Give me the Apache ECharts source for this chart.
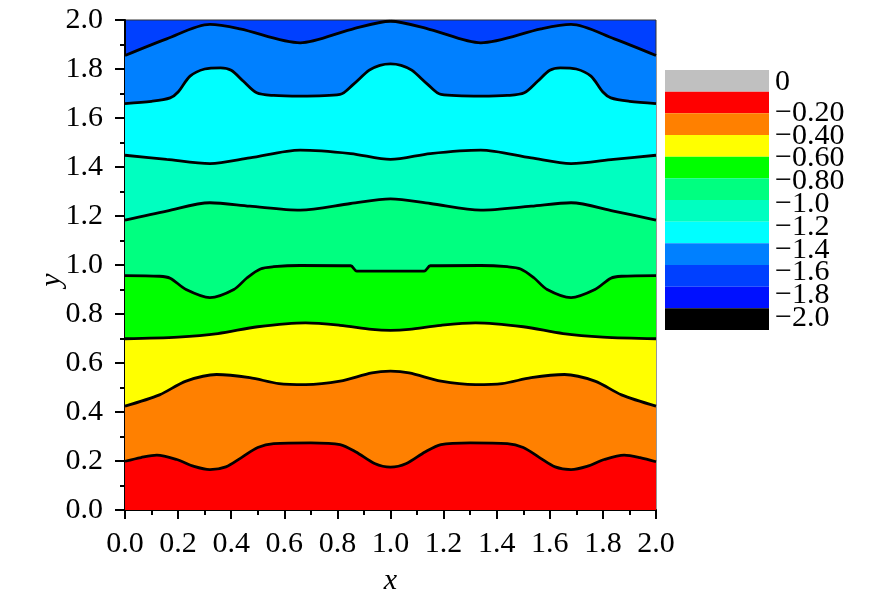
<!DOCTYPE html>
<html><head><meta charset="utf-8">
<script src="https://cdn.jsdelivr.net/npm/echarts@6/dist/echarts.min.js"></script>
<style>html,body{margin:0;padding:0;background:#fff}#c{width:870px;height:609px}</style>
</head><body><div id="c"></div>
<script>
// Contour boundary lines, bottom to top: [x, y]
const b1 = [[0,0.199],[0.06,0.214],[0.12,0.224],[0.195,0.206],[0.26,0.178],[0.32,0.165],[0.38,0.176],[0.44,0.215],[0.5,0.255],[0.56,0.271],[0.7,0.274],[0.81,0.267],[0.87,0.237],[0.94,0.19],[1.0,0.175],[1.06,0.19],[1.13,0.237],[1.19,0.267],[1.3,0.274],[1.44,0.271],[1.5,0.255],[1.56,0.215],[1.62,0.176],[1.68,0.165],[1.74,0.178],[1.805,0.206],[1.88,0.224],[1.94,0.214],[2.0,0.197]];
const b2 = [[0,0.424],[0.13,0.47],[0.23,0.526],[0.345,0.553],[0.47,0.54],[0.58,0.516],[0.68,0.512],[0.81,0.526],[0.93,0.56],[1.0,0.567],[1.07,0.56],[1.19,0.526],[1.32,0.512],[1.42,0.516],[1.53,0.54],[1.655,0.553],[1.77,0.526],[1.87,0.47],[2.0,0.424]];
const b3 = [[0,0.699],[0.2,0.706],[0.35,0.72],[0.5,0.748],[0.68,0.764],[0.81,0.754],[0.93,0.737],[1.0,0.733],[1.07,0.737],[1.19,0.754],[1.32,0.764],[1.5,0.748],[1.65,0.72],[1.8,0.706],[2.0,0.699]];
const b4 = [[0,0.957],[0.13,0.954],[0.17,0.946],[0.23,0.9],[0.32,0.867],[0.41,0.9],[0.46,0.948],[0.51,0.984],[0.56,0.993],[0.66,0.998],[0.85,0.997],[0.873,0.975],[1.0,0.975],[1.127,0.975],[1.15,0.997],[1.34,0.998],[1.44,0.993],[1.49,0.984],[1.54,0.948],[1.59,0.9],[1.68,0.867],[1.77,0.9],[1.83,0.946],[1.87,0.954],[2.0,0.957]];
const b5 = [[0,1.183],[0.157,1.22],[0.32,1.254],[0.47,1.24],[0.66,1.224],[0.85,1.251],[1.0,1.27],[1.15,1.251],[1.34,1.224],[1.53,1.24],[1.68,1.254],[1.84,1.22],[2.0,1.183]];
const b6 = [[0,1.448],[0.157,1.431],[0.32,1.414],[0.47,1.437],[0.66,1.469],[0.85,1.455],[1.0,1.431],[1.15,1.455],[1.34,1.469],[1.53,1.437],[1.68,1.414],[1.84,1.431],[2.0,1.448]];
const b7 = [[0,1.659],[0.1,1.668],[0.17,1.682],[0.2,1.706],[0.245,1.771],[0.3,1.8],[0.36,1.805],[0.4,1.795],[0.446,1.75],[0.496,1.703],[0.56,1.692],[0.66,1.689],[0.81,1.696],[0.86,1.737],[0.92,1.795],[0.96,1.815],[1.0,1.821],[1.04,1.815],[1.08,1.795],[1.14,1.737],[1.19,1.696],[1.34,1.689],[1.44,1.692],[1.504,1.703],[1.554,1.75],[1.6,1.795],[1.64,1.805],[1.7,1.8],[1.755,1.771],[1.8,1.706],[1.83,1.682],[1.9,1.668],[2.0,1.659]];
const b8 = [[0,1.855],[0.157,1.923],[0.32,1.982],[0.433,1.964],[0.66,1.907],[0.85,1.961],[1.0,1.995],[1.15,1.961],[1.34,1.907],[1.567,1.964],[1.68,1.982],[1.843,1.923],[2.0,1.855]];
const boundaries = [b1, b2, b3, b4, b5, b6, b7, b8];

// Colour bar
const cbSegments = [[0.2,0],[0,-0.2],[-0.2,-0.4],[-0.4,-0.6],[-0.6,-0.8],[-0.8,-1.0],[-1.0,-1.2],[-1.2,-1.4],[-1.4,-1.6],[-1.6,-1.8],[-1.8,-2.0],[-2.0,-2.2]];
const cbLabelValues = [0,-0.2,-0.4,-0.6,-0.8,-1.0,-1.2,-1.4,-1.6,-1.8,-2.0];
const cbLabels = ['0','\u22120.20','\u22120.40','\u22120.60','\u22120.80','\u22121.0','\u22121.2','\u22121.4','\u22121.6','\u22121.8','\u22122.0'];

// styles
const cbColors = ['#c0c0c0','#ff0000','#ff8000','#ffff00','#00ff00','#00ff80','#00ffc0','#00ffff','#0080ff','#0040ff','#0010ff','#000000'];
const bandBelow = ['#ff0000','#ff8000','#ffff00','#00ff00','#00ff80','#00ffc0','#00ffff','#0080ff'];
const topBand = '#0040ff';
const FONT = '"Liberation Serif", "Times New Roman", serif';

const chart = echarts.init(document.getElementById('c'), null, {renderer:'canvas'});
const lineSeries = [];
for (let i = boundaries.length - 1; i >= 0; i--) {
  lineSeries.push({
    type:'line', xAxisIndex:0, yAxisIndex:0, data: boundaries[i],
    showSymbol:false, smooth:0.3,
    lineStyle:{color:'#000', width:2.8},
    areaStyle:{color:bandBelow[i], opacity:1, origin:'start'},
    silent:true
  });
}
const axisText = {fontFamily:FONT, fontSize:30, color:'#000'};
chart.setOption({
  animation:false,
  backgroundColor:'#fff',
  grid:[
    {left:125, top:20, width:531, height:490, show:true, backgroundColor:topBand, borderColor:'#333', borderWidth:1},
    {left:665, top:70, width:104, height:260}
  ],
  xAxis:[
    {gridIndex:0, type:'value', min:0, max:2, interval:0.2,
     name:'x', nameLocation:'middle', nameGap:56, nameMoveOverlap:false,
     nameTextStyle:{fontFamily:FONT, fontSize:30, fontStyle:'italic', color:'#000'},
     axisLine:{show:true, onZero:false, lineStyle:{color:'#000', width:2}},
     axisTick:{show:true, inside:false, length:9, lineStyle:{color:'#000', width:2}},
     minorTick:{show:true, splitNumber:2, length:5, lineStyle:{color:'#000', width:2}},
     splitLine:{show:false},
     axisLabel:Object.assign({margin:19, formatter:v=>v.toFixed(1)}, axisText)},
    {gridIndex:1, type:'value', min:0, max:1, show:false}
  ],
  yAxis:[
    {gridIndex:0, type:'value', min:0, max:2, interval:0.2,
     name:'y', nameLocation:'middle', nameGap:58, nameRotate:90, nameMoveOverlap:false,
     nameTextStyle:{fontFamily:FONT, fontSize:30, fontStyle:'italic', color:'#000', padding:[0,30,0,0]},
     axisLine:{show:true, onZero:false, lineStyle:{color:'#000', width:2}},
     axisTick:{show:true, inside:false, length:10, lineStyle:{color:'#000', width:2}},
     minorTick:{show:true, splitNumber:2, length:5, lineStyle:{color:'#000', width:2}},
     splitLine:{show:false},
     axisLabel:Object.assign({margin:22, formatter:v=>v.toFixed(1)}, axisText)},
    {gridIndex:1, type:'value', min:-2.2, max:0.2, show:false},
    {gridIndex:1, type:'value', min:-2.105, max:0.1775, show:false}
  ],
  series: lineSeries.concat([{
    type:'custom', xAxisIndex:1, yAxisIndex:1, silent:true,
    data: cbSegments.map(s=>[0, s[0], s[1]]),
    encode:{x:0, y:[1,2]},
    renderItem:function(params, api){
      const p1 = api.coord([0, api.value(1)]);
      const p2 = api.coord([1, api.value(2)]);
      return {type:'rect', shape:{x:p1[0], y:p1[1], width:p2[0]-p1[0], height:p2[1]-p1[1]},
              style:{fill:cbColors[params.dataIndex]}};
    }
  }, {
    type:'custom', xAxisIndex:1, yAxisIndex:2, silent:true,
    data: cbLabelValues.map(v=>[1, v]),
    encode:{x:0, y:1},
    renderItem:function(params, api){
      const p = api.coord([1, api.value(1)]);
      const dy = params.dataIndex === 0 ? -8 : 0;
      return {type:'text', x:p[0]+6, y:p[1]+dy,
              style:{text:cbLabels[params.dataIndex], font:'30px ' + FONT, fill:'#000',
                     textAlign:'left', textVerticalAlign:'middle'}};
    }
  }])
});
</script></body></html>
